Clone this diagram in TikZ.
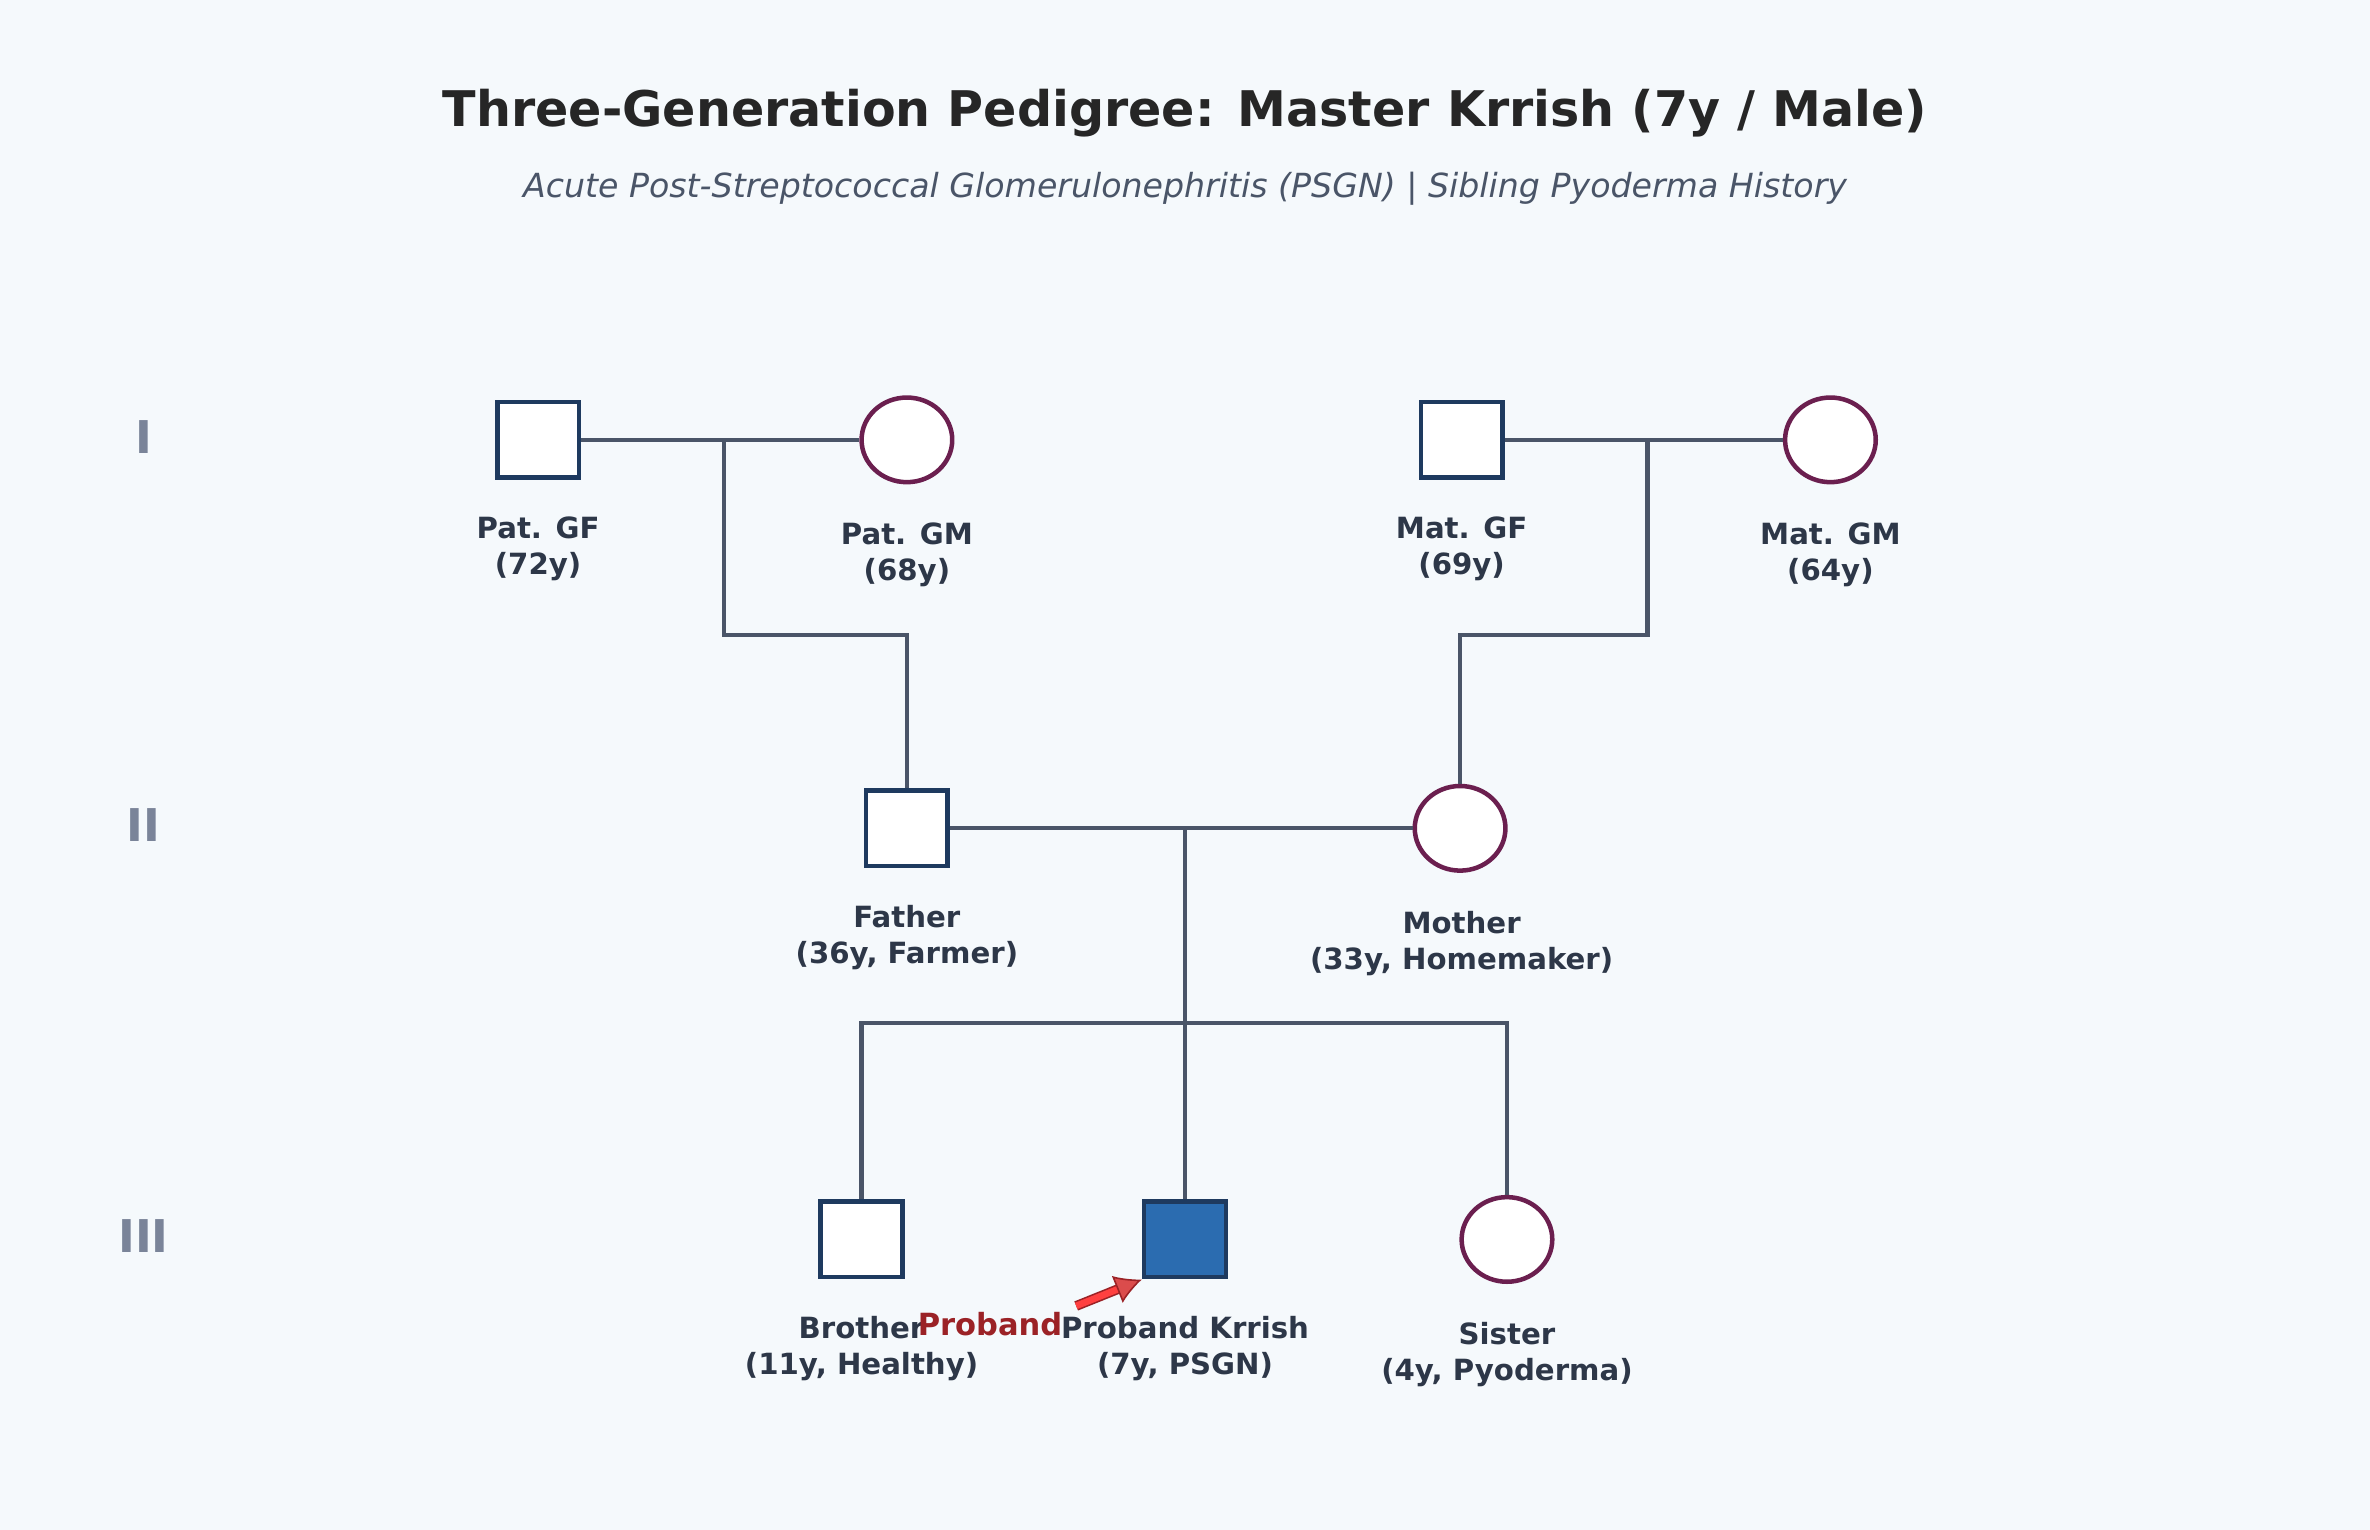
\documentclass[tikz,border=0pt]{standalone}
\usepackage{fontspec}
\setmainfont{DejaVu Sans}
\usetikzlibrary{shapes.geometric,arrows.meta}
\definecolor{bgcol}{HTML}{F5F9FC}
\definecolor{linecol}{HTML}{4A5568}
\definecolor{malecol}{HTML}{1E3A5F}
\definecolor{femcol}{HTML}{6B1F4F}
\definecolor{affcol}{HTML}{2B6CB0}
\definecolor{txtcol}{HTML}{2D3748}
\definecolor{gencol}{HTML}{7A8499}
\definecolor{redcol}{HTML}{9B2226}
\tikzset{
  male/.style={draw=malecol,fill=white,line width=1.7pt,minimum width=1.08cm,minimum height=1.0cm,inner sep=0pt},
  female/.style={ellipse,draw=femcol,fill=white,line width=1.7pt,minimum width=1.2cm,minimum height=1.12cm,inner sep=0pt},
  lbl/.style={font=\fontsize{11}{13.5}\selectfont\bfseries,text=txtcol,align=center},
  gen/.style={font=\fontsize{17}{20}\selectfont\bfseries,text=gencol},
  link/.style={draw=linecol,line width=1.6pt}
}
\begin{document}
\begin{tikzpicture}[x=0.02cm,y=-0.02cm]
\fill[bgcol] (0,0) rectangle (1568,1012);
\useasboundingbox (0,0) rectangle (1568,1012);
% titles
\node[font=\fontsize{18.5}{22}\selectfont\bfseries,text=black!85] (title) at (784,75) {Three-Generation Pedigree: Master Krrish (7y / Male)};
\node[font=\fontsize{12.5}{15}\selectfont\itshape,text=linecol] (sub) at (784,125) {Acute Post-Streptococcal Glomerulonephritis (PSGN) | Sibling Pyoderma History};
% generation numerals
\node[gen] (g1) at (95,289) {I};
\node[gen] (g2) at (95,546) {II};
\node[gen] (g3) at (95,818) {III};
% generation I
\node[male] (pgf) at (356,291) {};
\node[female] (pgm) at (600,291) {};
\node[male] (mgf) at (967,291) {};
\node[female] (mgm) at (1211,291) {};
% generation II
\node[male] (father) at (600,548) {};
\node[female] (mother) at (966,548) {};
% generation III
\node[male] (brother) at (570,820) {};
\node[male,fill=affcol] (proband) at (784,820) {};
\node[female] (sister) at (997,820) {};
% labels
\node[lbl] at (356,363) {Pat. GF\\(72y)};
\node[lbl] at (600,367) {Pat. GM\\(68y)};
\node[lbl] at (967,363) {Mat. GF\\(69y)};
\node[lbl] at (1211,367) {Mat. GM\\(64y)};
\node[lbl] at (600,620) {Father\\(36y, Farmer)};
\node[lbl] at (967,624) {Mother\\(33y, Homemaker)};
\node[lbl] at (570,892) {Brother\\(11y, Healthy)};
\node[lbl] at (784,892) {Proband Krrish\\(7y, PSGN)};
\node[lbl] at (997,896) {Sister\\(4y, Pyoderma)};
% connectors
\coordinate (pc) at (479,291);
\coordinate (mc) at (1090,291);
\coordinate (fc) at (784,548);
\coordinate (sib) at (784,677);
\draw[link] (pgf) -- (pgm);
\draw[link] (mgf) -- (mgm);
\draw[link] (pc) -- ++(0,129) -| (father);
\draw[link] (mc) -- ++(0,129) -| (mother);
\draw[link] (father) -- (mother);
\draw[link] (fc) -- (sib);
\draw[link] (brother) |- (sib) -| (sister);
\draw[link] (sib) -- (proband);
% proband marker
\node[font=\fontsize{11.5}{14}\selectfont\bfseries,text=redcol] (ptxt) at (655,876) {Proband};
\coordinate (ptail) at (712,864);
\draw[draw=redcol,fill=red!75!black!80,line width=0.6pt,-{Latex[length=10pt,width=11pt,fill=red!80!black!70]},double=red!75,double distance=2.5pt] (ptail) -- (proband.south west);
\end{tikzpicture}
\end{document}
